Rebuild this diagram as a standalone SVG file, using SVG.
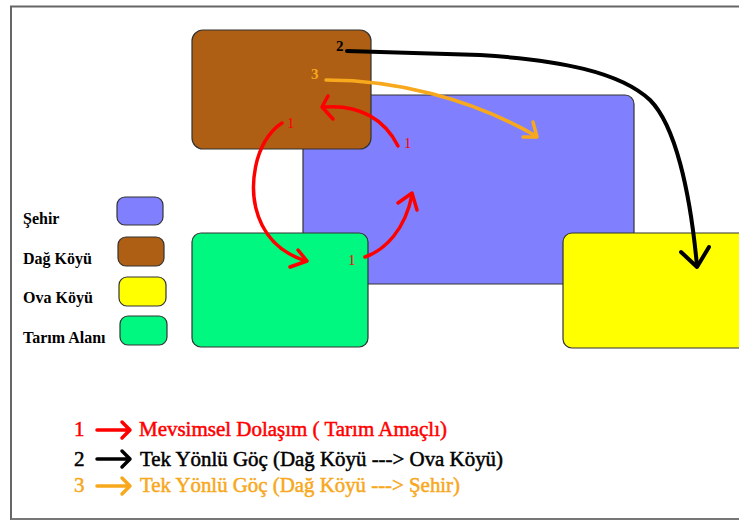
<svg xmlns="http://www.w3.org/2000/svg" width="739" height="520" viewBox="0 0 739 520">
<defs>
<style>
.box{stroke:#333;stroke-width:1.2}
.city{fill:#8080FF}
.mtn{fill:#AE5F13}
.plain{fill:#FFFF00}
.farm{fill:#00F880}
.conn{fill:none;stroke-linecap:round;stroke-linejoin:round}
.red{stroke:#FF0000;stroke-width:3.5}
.blk{stroke:#000;stroke-width:4}
.org{stroke:#F7A81C;stroke-width:3.5}
</style>
</defs>
<rect x="0" y="0" width="739" height="520" fill="#fff"/>
<path d="M11,520 V6.5 H739" fill="none" stroke="#666" stroke-width="2"/>
<path d="M11,519 H739" fill="none" stroke="#777" stroke-width="2"/>

<g id="node-sehir"><rect class="box city" x="303" y="95" width="331" height="189" rx="9"/></g>
<g id="node-dag-koyu"><rect class="box mtn" x="192" y="30" width="179" height="119" rx="11"/></g>
<g id="node-tarim-alani"><rect class="box farm" x="192" y="233" width="176" height="114" rx="9"/></g>
<g id="node-ova-koyu"><rect class="box plain" x="563" y="233" width="190" height="115" rx="9"/></g>

<g id="legend-boxes" font-family="Liberation Serif, Times New Roman, serif" font-weight="bold" font-size="16" fill="#000">
<g id="legend-sehir"><rect class="box city" x="117" y="197" width="46" height="28" rx="8"/><text x="23" y="224">Şehir</text></g>
<g id="legend-dag"><rect class="box mtn" x="118" y="237" width="46" height="29" rx="8"/><text x="23" y="264">Dağ Köyü</text></g>
<g id="legend-ova"><rect class="box plain" x="119" y="277" width="47" height="29" rx="8"/><text x="23" y="303">Ova Köyü</text></g>
<g id="legend-tarim"><rect class="box farm" x="120" y="316" width="47" height="29" rx="8"/><text x="23" y="343">Tarım Alanı</text></g>
</g>

<g id="connectors">
<path class="conn blk" d="M347,51 L480,55 C560,60 620,72 650,100 C675,125 690,190 697,266"/>
<path class="conn blk" d="M681,252 L697,267 L709,247"/>
<path class="conn org" d="M326,80 C395,80 470,98 536,136"/>
<path class="conn org" d="M523,137 L537,137 L533,122"/>
<path class="conn red" d="M398,146 C385,120 360,104 324,107"/>
<path class="conn red" d="M333,119 L322,107 L328,96"/>
<path class="conn red" d="M282,123 C255,140 245,190 262,225 C272,245 290,256 306,261"/>
<path class="conn red" d="M298,250 L307,261 L290,267"/>
<path class="conn red" d="M365,257 C385,250 405,230 412,195"/>
<path class="conn red" d="M398,203 L412,193 L417,210"/>
</g>

<g id="labels" font-family="Liberation Serif, Times New Roman, serif" font-size="15">
<text x="336" y="51" fill="#000" font-weight="bold">2</text>
<text x="311" y="79" fill="#F7A81C" font-weight="bold">3</text>
<text x="287" y="128" fill="#FF0000">1</text>
<text x="404" y="148" fill="#FF0000">1</text>
<text x="348" y="265" fill="#FF0000">1</text>
</g>

<g id="bottom-legend" font-family="Liberation Serif, Times New Roman, serif" font-size="21" stroke-width="0.5">
<text x="74" y="436" fill="#FF0000" stroke="#FF0000">1</text>
<path class="conn" d="M97,430 H129 M122,422 L130,430 L122,438" stroke="#FF0000" stroke-width="3.5"/>
<text x="139" y="436" fill="#FF0000" stroke="#FF0000" textLength="308" lengthAdjust="spacingAndGlyphs">Mevsimsel Dolaşım ( Tarım Amaçlı)</text>
<text x="74" y="466" fill="#000" stroke="#000">2</text>
<path class="conn" d="M97,459 H129 M122,451 L130,459 L122,467" stroke="#000" stroke-width="3.5"/>
<text x="140" y="466" fill="#000" stroke="#000" textLength="363" lengthAdjust="spacingAndGlyphs">Tek Yönlü Göç (Dağ Köyü ---&gt; Ova Köyü)</text>
<text x="74" y="492" fill="#F7A81C" stroke="#F7A81C">3</text>
<path class="conn" d="M97,486 H129 M122,478 L130,486 L122,494" stroke="#F7A81C" stroke-width="3.5"/>
<text x="140" y="492" fill="#F7A81C" stroke="#F7A81C" textLength="320" lengthAdjust="spacingAndGlyphs">Tek Yönlü Göç (Dağ Köyü ---&gt; Şehir)</text>
</g>
</svg>
